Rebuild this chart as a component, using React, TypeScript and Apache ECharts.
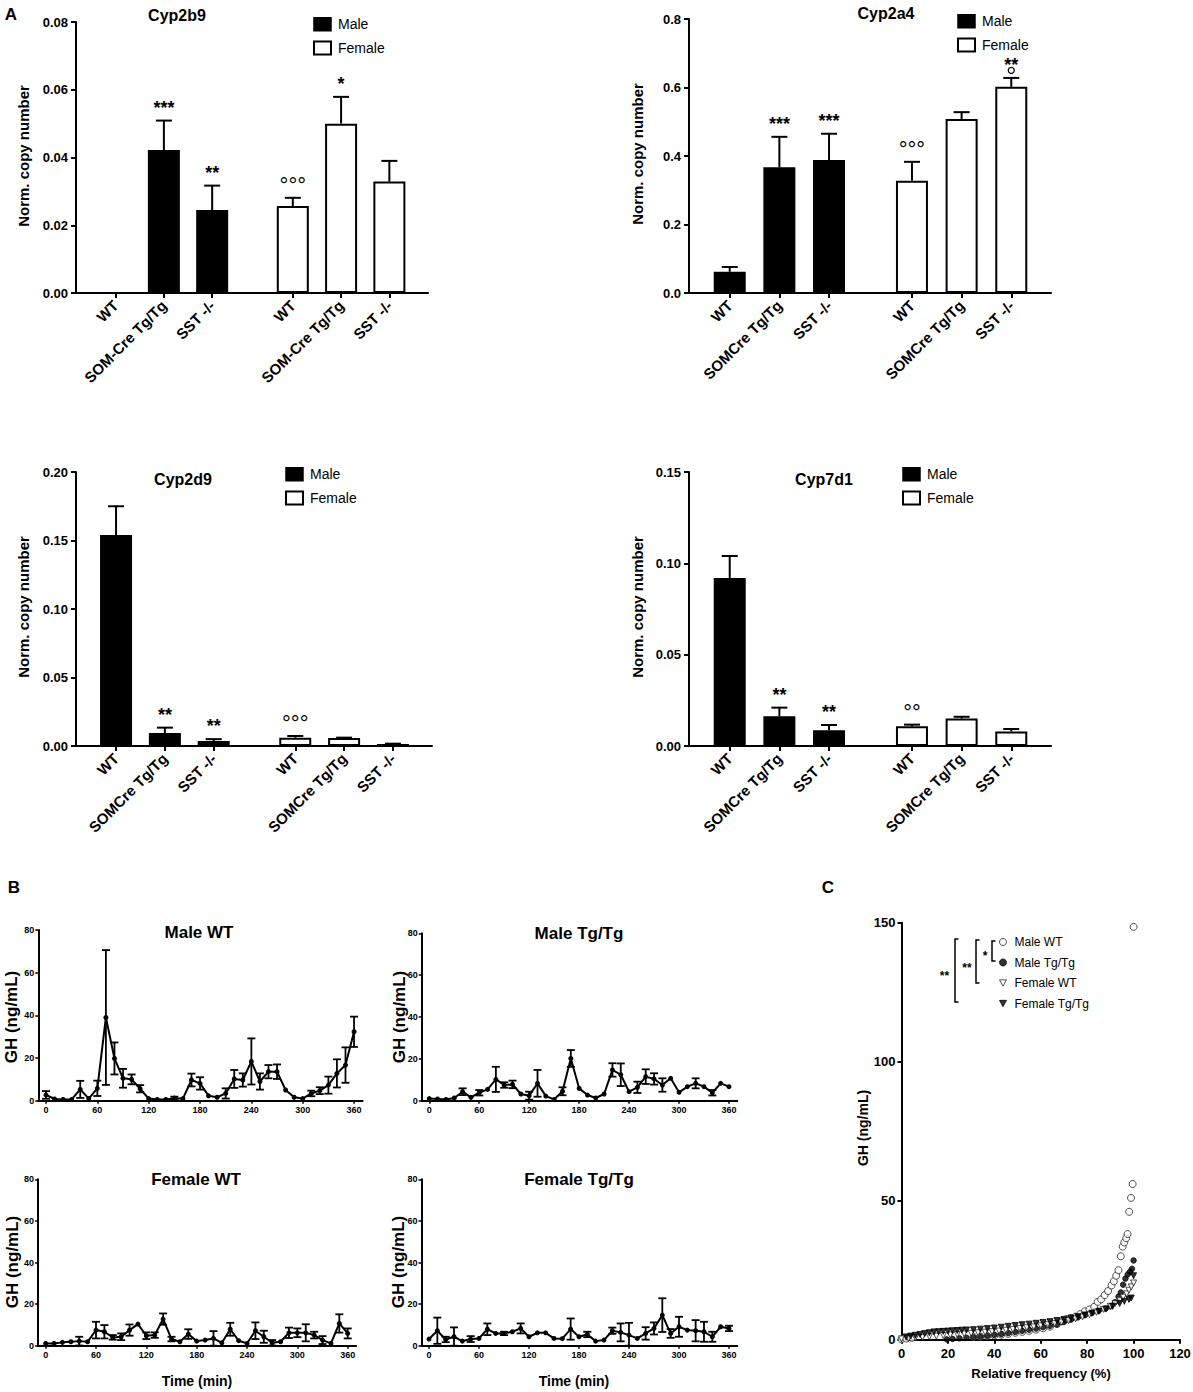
import React, { useEffect, useRef } from "react";
import * as echarts from "echarts";

const FONT = "'Liberation Sans', Arial, Helvetica, sans-serif";

// ---------------- Panel A data ----------------
const genes = ["Cyp2b9", "Cyp2a4", "Cyp2d9", "Cyp7d1"];
const groupLabelsCyp2b9 = ["WT", "SOM-Cre Tg/Tg", "SST -/-"];
const groupLabelsOther = ["WT", "SOMCre Tg/Tg", "SST -/-"];
const sexNames = ["Male", "Female"];

const cyp2b9Male = [0, 0.0422, 0.0245];
const cyp2b9MaleSem = [0, 0.0087, 0.0072];
const cyp2b9Female = [0.0257, 0.05, 0.0329];
const cyp2b9FemaleSem = [0.0024, 0.0079, 0.0061];
const cyp2b9MaleSig = ["", "***", "**"];
const cyp2b9FemaleSig = ["°°°", "*", ""];

const cyp2a4Male = [0.062, 0.367, 0.388];
const cyp2a4MaleSem = [0.014, 0.089, 0.077];
const cyp2a4Female = [0.328, 0.508, 0.602];
const cyp2a4FemaleSem = [0.055, 0.02, 0.026];
const cyp2a4MaleSig = ["", "***", "***"];
const cyp2a4FemaleSig = ["°°°", "", "**|°"];

const cyp2d9Male = [0.154, 0.0095, 0.0037];
const cyp2d9MaleSem = [0.021, 0.0039, 0.0013];
const cyp2d9Female = [0.0061, 0.0058, 0.0015];
const cyp2d9FemaleSem = [0.0012, 0.0003, 0.0002];
const cyp2d9MaleSig = ["", "**", "**"];
const cyp2d9FemaleSig = ["°°°", "", ""];

const cyp7d1Male = [0.092, 0.0163, 0.0086];
const cyp7d1MaleSem = [0.012, 0.0047, 0.0029];
const cyp7d1Female = [0.0108, 0.015, 0.008];
const cyp7d1FemaleSem = [0.0009, 0.001, 0.0013];
const cyp7d1MaleSig = ["", "**", "**"];
const cyp7d1FemaleSig = ["°°", "", ""];

const geneYMax = [0.08, 0.8, 0.2, 0.15];
const geneYInterval = [0.02, 0.2, 0.05, 0.05];
const geneYDecimals = [2, 1, 2, 2];

// ---------------- Panel B data ----------------
const sampleTimes = [0, 10, 20, 30, 40, 50, 60, 70, 80, 90, 100, 110, 120, 130, 140, 150, 160, 170, 180, 190, 200, 210, 220, 230, 240, 250, 260, 270, 280, 290, 300, 310, 320, 330, 340, 350, 360];
const timeTicks = [0, 60, 120, 180, 240, 300, 360];
const profileTitles = ["Male WT", "Male Tg/Tg", "Female WT", "Female Tg/Tg"];

const ghMaleWT = [2.7, 0.8, 0.6, 0.6, 5.3, 1.0, 5.8, 39.0, 19.8, 10.5, 10.0, 5.6, 1.0, 0.6, 0.6, 1.2, 1.0, 9.7, 8.1, 2.3, 1.6, 3.4, 10.2, 9.7, 18.4, 9.0, 13.6, 13.6, 5.0, 1.6, 1.0, 3.4, 4.7, 7.3, 12.8, 16.7, 32.3];
const ghMaleWTSem = [1.8, 0, 0, 0, 4.0, 0, 3.6, 31.6, 7.5, 4.4, 2.3, 1.7, 0, 0, 0, 0.7, 0, 3.0, 2.9, 0, 0, 2.4, 4.2, 3.1, 10.8, 3.8, 3.1, 3.4, 0, 0, 0, 1.3, 1.6, 4.0, 6.6, 8.3, 7.1];

const ghMaleTg = [1.0, 0.8, 0.6, 1.3, 4.3, 1.6, 3.8, 5.4, 10.2, 7.5, 7.8, 3.2, 2.4, 8.3, 2.2, 0.6, 4.5, 20.2, 5.9, 2.7, 1.3, 3.2, 14.7, 12.4, 4.3, 6.4, 11.5, 10.4, 7.5, 10.7, 4.0, 6.7, 8.3, 6.7, 3.8, 8.3, 6.7];
const ghMaleTgSem = [0, 0, 0, 0, 1.6, 0, 1.3, 0, 6.0, 1.3, 1.8, 0, 1.9, 6.4, 0, 0, 1.9, 4.0, 0, 0, 0, 0, 3.2, 5.4, 0, 2.7, 3.5, 2.7, 3.2, 0, 0, 0, 2.4, 0, 1.3, 0, 0];

const ghFemaleWT = [1.1, 1.1, 1.6, 1.9, 2.2, 1.9, 7.5, 6.7, 4.0, 4.3, 7.5, 10.4, 4.8, 5.1, 12.8, 3.2, 1.9, 5.6, 2.2, 2.7, 3.5, 1.4, 7.9, 2.4, 1.1, 7.2, 4.3, 1.4, 1.9, 6.2, 6.2, 6.2, 5.1, 2.7, 1.1, 10.7, 5.9];
const ghFemaleWTSem = [0, 0, 0, 0, 2.1, 0, 4.0, 3.2, 1.1, 1.6, 2.7, 0, 1.6, 1.3, 2.7, 1.1, 0, 2.3, 0, 0, 3.5, 0, 3.1, 0, 0, 4.0, 2.9, 1.3, 0, 2.5, 2.1, 4.1, 1.6, 1.9, 0, 4.4, 2.4];

const ghFemaleTg = [3.2, 7.2, 3.0, 4.3, 2.2, 3.2, 3.5, 7.9, 5.9, 5.9, 6.7, 8.3, 4.3, 6.2, 6.2, 3.5, 3.4, 8.0, 4.3, 5.4, 2.2, 2.7, 7.2, 6.4, 5.1, 3.5, 5.9, 8.3, 14.7, 5.9, 9.1, 7.5, 7.2, 6.7, 4.3, 9.1, 8.3];
const ghFemaleTgSem = [0, 6.3, 1.3, 4.5, 0, 1.4, 0, 2.8, 0, 0.8, 0, 2.4, 0, 0, 0, 0, 0, 5.1, 0, 1.3, 0, 0, 1.5, 4.3, 5.9, 0, 3.0, 2.9, 8.1, 2.1, 4.8, 0, 5.1, 4.8, 2.4, 0, 1.3];

// ---------------- Panel C data (relative frequency %, GH ng/mL) ----------------
const freqNames = ["Male WT", "Male Tg/Tg", "Female WT", "Female Tg/Tg"];
const freqMaleWT = [[0, 0.2], [2, 0.4], [4.5, 0.7], [31, 1.0], [34, 1.1], [37, 1.3], [40, 1.5], [43, 1.8], [46, 2.1], [49, 2.5], [52, 2.8], [55, 3.2], [58, 3.6], [61, 4.1], [64, 4.7], [67, 5.6], [69, 6.6], [71, 7.4], [73, 7.8], [75, 8.3], [77, 9.2], [79, 10.2], [81, 10.9], [83, 11.8], [84.5, 13.6], [86, 14.5], [87.5, 16], [89, 17.5], [90.5, 19.5], [91.5, 21], [92.5, 23], [93.5, 25], [94.5, 30], [95.3, 33.5], [96, 35], [96.8, 36.5], [97.4, 38], [98.1, 46], [98.9, 51], [99.6, 56], [100, 148.5]];
const freqMaleTg = [[19.5, 0.1], [22, 0.3], [25, 0.5], [28, 0.7], [31, 0.9], [34, 1.1], [37, 1.4], [40, 1.7], [43, 2.0], [46, 2.4], [49, 2.8], [52, 3.2], [55, 3.6], [58, 4.0], [61, 4.5], [64, 5.0], [67, 5.6], [70, 6.4], [73, 7.2], [76, 8.0], [79, 8.8], [82, 9.6], [85, 10.4], [88, 11.2], [90, 12], [92, 13.5], [93.5, 15.5], [94.5, 17], [95.5, 19.8], [96.5, 22], [97.5, 23.5], [98.5, 24.5], [99.3, 25.5], [100, 28.5]];
const freqFemaleWT = [[0, 0.3], [3, 0.5], [6, 0.7], [9, 0.9], [12, 1.1], [15, 1.3], [18, 1.5], [21, 1.7], [24, 1.9], [27, 2.1], [30, 2.3], [33, 2.5], [36, 2.7], [39, 2.9], [42, 3.1], [45, 3.4], [48, 3.7], [51, 4.0], [54, 4.3], [57, 4.6], [60, 5.0], [63, 5.4], [66, 5.8], [69, 6.3], [72, 6.9], [75, 7.5], [78, 8.2], [81, 9.0], [84, 9.9], [87, 10.9], [90, 12.0], [92, 13.0], [94, 14.2], [95.5, 15.3], [97, 16.5], [98, 17.8], [99, 19], [100, 20.4]];
const freqFemaleTg = [[2, 1.0], [4, 1.3], [6, 1.6], [8, 1.9], [10, 2.2], [12, 2.5], [14, 2.8], [16, 2.9], [18, 3.0], [20, 3.1], [22, 3.2], [24, 3.3], [26, 3.4], [28, 3.5], [31, 3.6], [34, 3.8], [37, 4.0], [40, 4.2], [43, 4.5], [46, 4.8], [49, 5.1], [52, 5.4], [55, 5.6], [58, 5.9], [61, 6.2], [64, 6.5], [67, 6.9], [70, 7.3], [73, 7.8], [76, 8.3], [79, 8.9], [82, 9.5], [85, 10.2], [88, 11], [91, 12], [94, 13], [96, 13.8], [98, 14.5], [99, 15], [100, 23]];
const freqYTicks = [0, 50, 100, 150];

// ---------------- layout ----------------
const slotMale = [0, 1, 2];
const slotFemale = [3.67, 4.67, 5.67];
const gridsA = [
  { left: 76, top: 22, width: 352, height: 271 },
  { left: 689, top: 19, width: 362, height: 274 },
  { left: 76, top: 472, width: 356, height: 274 },
  { left: 689, top: 472, width: 362, height: 274 },
];
const gridsB = [
  { left: 38.3, top: 930, width: 324.3, height: 170.7 },
  { left: 421.8, top: 933.3, width: 315.5, height: 167.4 },
  { left: 38.1, top: 1179.3, width: 318, height: 166.4 },
  { left: 421.5, top: 1179.3, width: 315.8, height: 166.4 },
];
const gridC = { left: 901.5, top: 922.7, width: 278.5, height: 417 };
const TRI_DOWN = "path://M0,0L10,0L5,9Z";

const black = "#000";

function sigMarks(str: string, x: number, errTop: number): any[] {
  const parts = str.split("|");
  const out: any[] = [];
  const main = parts[0];
  const deg = main.indexOf("°") >= 0;
  const size = deg ? 22 : 18;
  out.push({
    type: "text",
    x,
    y: errTop - 17 + size * 0.225,
    style: {
      text: main,
      fontSize: size,
      fontWeight: deg ? "normal" : "bold",
      fontFamily: FONT,
      fill: black,
      align: "center",
      verticalAlign: "middle",
    },
  });
  if (parts.length > 1) {
    // a single small ring tucked between the stars and the error bar
    out.push({
      type: "circle",
      shape: { cx: x, cy: errTop - 7.5, r: 3 },
      style: { fill: "none", stroke: black, lineWidth: 1.3 },
    });
  }
  return out;
}

function barErrorRenderer(sig: string[]) {
  return (params: any, api: any) => {
    const x = api.value(0);
    const y = api.value(1);
    const e = api.value(2);
    const base = api.coord([x, y]);
    const top = api.coord([x, y + e]);
    let children: any[] = [];
    if (e > 0) {
      children.push({ type: "line", shape: { x1: base[0], y1: base[1], x2: top[0], y2: top[1] }, style: { stroke: black, lineWidth: 2 } });
      children.push({ type: "line", shape: { x1: top[0] - 8, y1: top[1], x2: top[0] + 8, y2: top[1] }, style: { stroke: black, lineWidth: 2 } });
    }
    const s = sig[params.dataIndex];
    if (s) children = children.concat(sigMarks(s, top[0], top[1]));
    return { type: "group", children };
  };
}

function symErrorRenderer(params: any, api: any) {
  const x = api.value(0);
  const y = api.value(1);
  const e = api.value(2);
  if (!(e > 0)) return { type: "group", children: [] };
  const lo = api.coord([x, Math.max(0, y - e)]);
  const hi = api.coord([x, y + e]);
  const st = { stroke: black, lineWidth: 1.8 };
  return {
    type: "group",
    children: [
      { type: "line", shape: { x1: lo[0], y1: lo[1], x2: hi[0], y2: hi[1] }, style: st },
      { type: "line", shape: { x1: hi[0] - 4, y1: hi[1], x2: hi[0] + 4, y2: hi[1] }, style: st },
      { type: "line", shape: { x1: lo[0] - 4, y1: lo[1], x2: lo[0] + 4, y2: lo[1] }, style: st },
    ],
  };
}

function gtext(text: string, x: number, y: number, size: number, rot = 0, weight = "bold") {
  return {
    type: "text",
    x,
    y,
    rotation: rot,
    silent: true,
    style: { text, fontSize: size, fontWeight: weight, fontFamily: FONT, fill: black, align: "center", verticalAlign: "middle" },
  };
}

function bracket(x: number, y1: number, y2: number) {
  return {
    type: "polyline",
    silent: true,
    shape: { points: [[x + 3.5, y1], [x, y1], [x, y2], [x + 3.5, y2]] },
    style: { stroke: black, lineWidth: 1.5, fill: "none" },
  };
}

function buildOption() {
  const grid: any[] = [];
  const xAxis: any[] = [];
  const yAxis: any[] = [];
  const series: any[] = [];
  const legend: any[] = [];

  const geneData = [
    [cyp2b9Male, cyp2b9MaleSem, cyp2b9Female, cyp2b9FemaleSem, cyp2b9MaleSig, cyp2b9FemaleSig],
    [cyp2a4Male, cyp2a4MaleSem, cyp2a4Female, cyp2a4FemaleSem, cyp2a4MaleSig, cyp2a4FemaleSig],
    [cyp2d9Male, cyp2d9MaleSem, cyp2d9Female, cyp2d9FemaleSem, cyp2d9MaleSig, cyp2d9FemaleSig],
    [cyp7d1Male, cyp7d1MaleSem, cyp7d1Female, cyp7d1FemaleSem, cyp7d1MaleSig, cyp7d1FemaleSig],
  ] as any[];

  const slotsAll = [...slotMale, ...slotFemale];
  const legendPos = [
    { left: 313, top: 17 },
    { left: 957, top: 14 },
    { left: 285, top: 467 },
    { left: 902, top: 467 },
  ];

  geneData.forEach((d: any[], g: number) => {
    const [m, mSem, f, fSem, mSig, fSig] = d;
    const labels = g === 0 ? [...groupLabelsCyp2b9, ...groupLabelsCyp2b9] : [...groupLabelsOther, ...groupLabelsOther];
    grid.push({ ...gridsA[g], containLabel: false, outerBoundsMode: "none" });
    xAxis.push({
      type: "value",
      gridIndex: g,
      min: -0.82,
      max: 6.47,
      axisLine: { show: true, onZero: false, lineStyle: { color: black, width: 2 } },
      axisTick: { show: true, customValues: slotsAll, length: 5, lineStyle: { color: black, width: 2 } },
      axisLabel: {
        show: true,
        customValues: slotsAll,
        rotate: 45,
        margin: 10,
        fontSize: 15,
        fontWeight: "bold",
        fontFamily: FONT,
        color: black,
        formatter: (v: number) => {
          const i = slotsAll.findIndex((s) => Math.abs(s - v) < 0.01);
          return i >= 0 ? labels[i] : "";
        },
      },
      splitLine: { show: false },
    });
    yAxis.push({
      type: "value",
      gridIndex: g,
      min: 0,
      max: geneYMax[g],
      interval: geneYInterval[g],
      axisLine: { show: true, onZero: false, lineStyle: { color: black, width: 2 } },
      axisTick: { show: true, length: 5, lineStyle: { color: black, width: 2 } },
      axisLabel: {
        fontSize: 13,
        fontWeight: "bold",
        fontFamily: FONT,
        color: black,
        margin: 8,
        formatter: (v: number) => v.toFixed(geneYDecimals[g]),
      },
      splitLine: { show: false },
    });
    series.push({
      type: "bar",
      name: sexNames[0],
      xAxisIndex: g,
      yAxisIndex: g,
      barWidth: 32,
      barGap: "-100%",
      silent: true,
      itemStyle: { color: black, borderColor: black, borderWidth: 2 },
      data: m.map((v: number, i: number) => [slotMale[i], v]),
    });
    series.push({
      type: "bar",
      name: sexNames[1],
      xAxisIndex: g,
      yAxisIndex: g,
      barWidth: 32,
      barGap: "-100%",
      silent: true,
      itemStyle: { color: "#fff", borderColor: black, borderWidth: 2 },
      data: f.map((v: number, i: number) => [slotFemale[i], v]),
    });
    series.push({
      type: "custom",
      xAxisIndex: g,
      yAxisIndex: g,
      silent: true,
      z: 5,
      clip: false,
      dimensions: ["x", "y", "e"],
      encode: { x: 0, y: 1 },
      renderItem: barErrorRenderer(mSig),
      data: m.map((v: number, i: number) => [slotMale[i], v, mSem[i]]),
    });
    series.push({
      type: "custom",
      xAxisIndex: g,
      yAxisIndex: g,
      silent: true,
      z: 5,
      clip: false,
      dimensions: ["x", "y", "e"],
      encode: { x: 0, y: 1 },
      renderItem: barErrorRenderer(fSig),
      data: f.map((v: number, i: number) => [slotFemale[i], v, fSem[i]]),
    });
    legend.push({
      ...legendPos[g],
      orient: "vertical",
      selectedMode: false,
      itemWidth: 17,
      itemHeight: 13,
      itemGap: 9,
      padding: 0,
      textStyle: { fontSize: 14, fontFamily: FONT, color: black, padding: [0, 0, 0, 2] },
      data: [
        { name: sexNames[0], icon: "rect", itemStyle: { color: black, borderColor: black, borderWidth: 1.5 } },
        { name: sexNames[1], icon: "rect", itemStyle: { color: "#fff", borderColor: black, borderWidth: 2 } },
      ],
    });
  });

  // Panel B
  const profiles = [
    [ghMaleWT, ghMaleWTSem],
    [ghMaleTg, ghMaleTgSem],
    [ghFemaleWT, ghFemaleWTSem],
    [ghFemaleTg, ghFemaleTgSem],
  ];
  profiles.forEach(([vals, sem], k) => {
    const g = 4 + k;
    grid.push({ ...gridsB[k], containLabel: false, outerBoundsMode: "none" });
    xAxis.push({
      type: "value",
      gridIndex: g,
      min: -9,
      max: 370,
      axisLine: { show: true, onZero: false, lineStyle: { color: black, width: 2 } },
      axisTick: { show: true, customValues: timeTicks, length: 3, lineStyle: { color: black, width: 1.5 } },
      axisLabel: { customValues: timeTicks, fontSize: 9, fontWeight: "bold", fontFamily: FONT, color: black, margin: 5 },
      splitLine: { show: false },
    });
    yAxis.push({
      type: "value",
      gridIndex: g,
      min: 0,
      max: 80,
      interval: 20,
      axisLine: { show: true, onZero: false, lineStyle: { color: black, width: 2 } },
      axisTick: { show: true, length: 3, lineStyle: { color: black, width: 1.5 } },
      axisLabel: { fontSize: 9, fontWeight: "bold", fontFamily: FONT, color: black, margin: 4 },
      splitLine: { show: false },
    });
    series.push({
      type: "custom",
      name: "profile-err-" + k,
      xAxisIndex: g,
      yAxisIndex: g,
      silent: true,
      dimensions: ["x", "y", "e"],
      encode: { x: 0, y: 1 },
      renderItem: symErrorRenderer,
      data: (vals as number[]).map((v, i) => [sampleTimes[i], v, (sem as number[])[i]]),
    });
    series.push({
      type: "line",
      name: "profile-" + profileTitles[k],
      xAxisIndex: g,
      yAxisIndex: g,
      silent: true,
      symbol: "circle",
      symbolSize: 5,
      lineStyle: { color: black, width: 2 },
      itemStyle: { color: black },
      z: 4,
      data: (vals as number[]).map((v, i) => [sampleTimes[i], v]),
    });
  });

  // Panel C
  const gc = 8;
  grid.push({ ...gridC, containLabel: false, outerBoundsMode: "none" });
  xAxis.push({
    type: "value",
    gridIndex: gc,
    min: 0,
    max: 120,
    interval: 20,
    axisLine: { show: true, onZero: false, lineStyle: { color: black, width: 2 } },
    axisTick: { show: true, length: 4, lineStyle: { color: black, width: 2 } },
    axisLabel: { fontSize: 13, fontWeight: "bold", fontFamily: FONT, color: black, margin: 7 },
    splitLine: { show: false },
  });
  yAxis.push({
    type: "value",
    gridIndex: gc,
    min: 0,
    max: 150,
    interval: 50,
    axisLine: { show: true, onZero: false, lineStyle: { color: black, width: 2 } },
    axisTick: { show: true, length: 4, customValues: freqYTicks, lineStyle: { color: black, width: 2 } },
    axisLabel: { fontSize: 13, fontWeight: "bold", fontFamily: FONT, color: black, margin: 6 },
    splitLine: { show: false },
  });
  const freqSeries = [
    { data: freqMaleWT, symbol: "circle", size: 7, fill: "#fff", border: "#222" },
    { data: freqMaleTg, symbol: "circle", size: 5.5, fill: black, border: black },
    { data: freqFemaleWT, symbol: TRI_DOWN, size: 6, fill: "#fff", border: "#222" },
    { data: freqFemaleTg, symbol: TRI_DOWN, size: 6, fill: black, border: black },
  ];
  freqSeries.forEach((s, i) => {
    series.push({
      type: "scatter",
      name: freqNames[i],
      xAxisIndex: gc,
      yAxisIndex: gc,
      silent: true,
      symbol: s.symbol,
      symbolSize: s.size,
      itemStyle: { color: s.fill, borderColor: s.border, borderWidth: 1 },
      data: s.data,
    });
  });
  legend.push({
    left: 999,
    top: 936,
    orient: "vertical",
    selectedMode: false,
    itemWidth: 7,
    itemHeight: 7,
    itemGap: 8.5,
    padding: 0,
    textStyle: { fontSize: 12, fontFamily: FONT, color: black, padding: [0, 0, 0, 3] },
    data: freqNames.map((n, i) => ({
      name: n,
      icon: freqSeries[i].symbol,
      itemStyle: { color: freqSeries[i].fill, borderColor: freqSeries[i].border, borderWidth: 1 },
    })),
  });

  const R = Math.PI / 2;
  const graphic: any[] = [
    gtext("A", 11, 14, 17),
    gtext("B", 14, 887, 17),
    gtext("C", 828, 887, 17),
    gtext(genes[0], 177, 15.5, 16),
    gtext(genes[1], 886, 13, 16),
    gtext(genes[2], 183, 479, 16),
    gtext(genes[3], 824, 479, 16),
    gtext("Norm. copy number", 23, 156, 15, R),
    gtext("Norm. copy number", 637, 154, 15, R),
    gtext("Norm. copy number", 23, 607, 15, R),
    gtext("Norm. copy number", 637, 607, 15, R),
    gtext(profileTitles[0], 199, 932, 17),
    gtext(profileTitles[1], 579, 933, 17),
    gtext(profileTitles[2], 196, 1179, 17),
    gtext(profileTitles[3], 579, 1179, 17),
    gtext("GH (ng/mL)", 11, 1017, 17, R),
    gtext("GH (ng/mL)", 399, 1017, 17, R),
    gtext("GH (ng/mL)", 12.5, 1262, 17, R),
    gtext("GH (ng/mL)", 398, 1262, 17, R),
    gtext("Time (min)", 197, 1381, 14),
    gtext("Time (min)", 574, 1381, 14),
    gtext("Relative frequency (%)", 1041, 1373, 13),
    gtext("GH (ng/mL)", 863, 1128, 14, R),
    bracket(992, 941, 961),
    bracket(976, 940, 983),
    bracket(955, 939, 1002),
    gtext("*", 985, 956, 12),
    gtext("**", 967, 968, 12),
    gtext("**", 944.5, 976, 12),
  ];

  return {
    animation: false,
    backgroundColor: "#fff",
    textStyle: { fontFamily: FONT },
    grid,
    xAxis,
    yAxis,
    series,
    legend,
    graphic,
  };
}

export default function App() {
  const ref = useRef<HTMLDivElement>(null);
  useEffect(() => {
    if (!ref.current) return;
    const chart = echarts.init(ref.current, undefined, { renderer: "svg" });
    chart.setOption(buildOption() as any);
    return () => chart.dispose();
  }, []);
  return (
    <div
      ref={ref}
      style={{ position: "absolute", left: 0, top: 0, width: 1193, height: 1392, background: "#fff" }}
    />
  );
}
